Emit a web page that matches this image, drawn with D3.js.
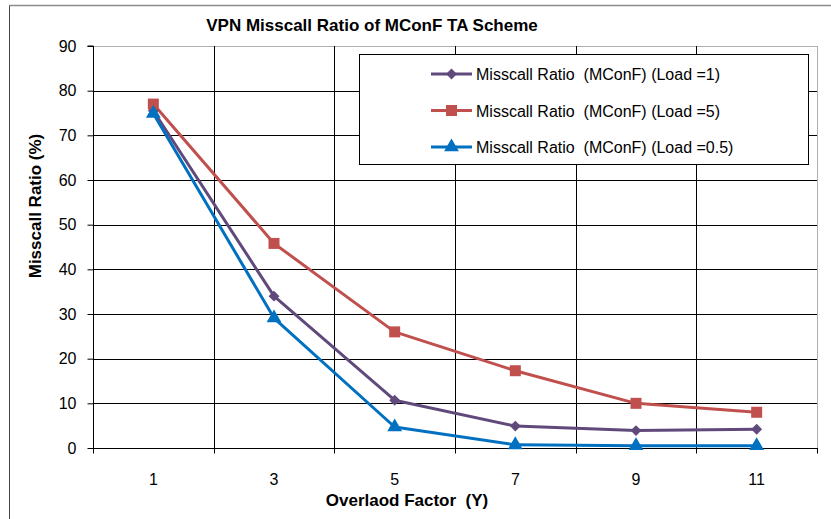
<!DOCTYPE html>
<html>
<head>
<meta charset="utf-8">
<script src="https://cdn.jsdelivr.net/npm/d3@7/dist/d3.min.js"></script>
<style>
  html, body { margin: 0; padding: 0; background: #fff; }
  svg { display: block; font-family: Arial, "Liberation Sans", sans-serif; }
  text { white-space: pre; }
</style>
</head>
<body>
<svg id="chart" width="831" height="519"></svg>
<script>
// Overload factor categories on the x axis
const categories = ["1", "3", "5", "7", "9", "11"];

// Misscall ratio (%) per load setting
const loadOne     = [75.5, 34.0, 10.7, 4.9, 3.9, 4.2];
const loadFive    = [77.0, 45.8, 26.0, 17.3, 10.0, 8.0];
const loadHalf    = [74.9, 29.1, 4.7, 0.7, 0.5, 0.5];

const yTicks = [0, 10, 20, 30, 40, 50, 60, 70, 80, 90];

const seriesNames = [
  "Misscall Ratio  (MConF) (Load =1)",
  "Misscall Ratio  (MConF) (Load =5)",
  "Misscall Ratio  (MConF) (Load =0.5)"
];

const series = [
  { name: seriesNames[0], values: loadOne,  color: "#604A7B", symbol: d3.symbolDiamond2, size: 75 },
  { name: seriesNames[1], values: loadFive, color: "#C0504D", symbol: d3.symbolSquare,   size: 121 },
  { name: seriesNames[2], values: loadHalf, color: "#0070C0", symbol: d3.symbolTriangle, size: 95 }
];

const svg = d3.select("#chart");
const plot = { left: 93, right: 817, top: 46, bottom: 448 };

// Chart area frame
svg.append("rect")
  .attr("x", 9.5).attr("y", 5.5)
  .attr("width", 840).attr("height", 540)
  .attr("fill", "#fff")
  .attr("stroke", "#444").attr("stroke-width", 1);
svg.append("line")
  .attr("x1", 9).attr("x2", 831).attr("y1", 5.5).attr("y2", 5.5)
  .attr("stroke", "#8c8c8c").attr("stroke-width", 1.5);

const x = d3.scaleBand().domain(categories).range([plot.left, plot.right]).paddingInner(0).paddingOuter(0);
const y = d3.scaleLinear().domain([0, 90]).range([plot.bottom, plot.top]);
const cx = c => x(c) + x.bandwidth() / 2;

// Plot area border
svg.append("rect")
  .attr("x", plot.left + 0.5).attr("y", plot.top + 0.5)
  .attr("width", plot.right - plot.left).attr("height", plot.bottom - plot.top)
  .attr("fill", "none").attr("stroke", "#b0b0b0").attr("stroke-width", 1);

// Horizontal gridlines
svg.append("g")
  .selectAll("line")
  .data(yTicks.filter(t => t > 0 && t < 90))
  .join("line")
  .attr("x1", plot.left).attr("x2", plot.right)
  .attr("y1", d => Math.round(y(d)) + 0.5).attr("y2", d => Math.round(y(d)) + 0.5)
  .attr("stroke", "#000").attr("stroke-width", 1);

// Vertical gridlines at category boundaries
svg.append("g")
  .selectAll("line")
  .data(categories.slice(1))
  .join("line")
  .attr("x1", d => Math.round(x(d)) + 0.5).attr("x2", d => Math.round(x(d)) + 0.5)
  .attr("y1", plot.top).attr("y2", plot.bottom)
  .attr("stroke", "#000").attr("stroke-width", 1);

// Y axis
const yAxis = svg.append("g")
  .attr("transform", `translate(${plot.left + 0.5},0)`)
  .call(d3.axisLeft(y).tickValues(yTicks).tickSize(6).tickPadding(11));
yAxis.select(".domain").attr("stroke", "#000").attr("d", `M-6,${y(90)}H0V${y(0)}`);
yAxis.selectAll(".tick line").attr("stroke", "#000");
yAxis.selectAll(".tick text")
  .attr("font-size", 16).attr("fill", "#000")
  .attr("font-family", "Arial, 'Liberation Sans', sans-serif");

// X axis with ticks on category boundaries
const xAxis = svg.append("g").attr("transform", `translate(0,${plot.bottom + 0.5})`);
xAxis.append("line")
  .attr("x1", plot.left).attr("x2", plot.right + 1)
  .attr("y1", 0).attr("y2", 0)
  .attr("stroke", "#000");
const boundaries = categories.map(c => x(c)).concat([x(categories[categories.length - 1]) + x.bandwidth()]);
xAxis.selectAll("line.tick")
  .data(boundaries)
  .join("line")
  .attr("class", "tick")
  .attr("x1", d => Math.round(d) + 0.5).attr("x2", d => Math.round(d) + 0.5)
  .attr("y1", 0).attr("y2", 5)
  .attr("stroke", "#000");
xAxis.selectAll("text")
  .data(categories)
  .join("text")
  .attr("x", d => cx(d))
  .attr("y", 36)
  .attr("text-anchor", "middle")
  .attr("font-size", 16)
  .text(d => d);

// Series lines and markers
const line = d3.line().x((d, i) => cx(categories[i])).y(d => y(d));
series.forEach(s => {
  svg.append("path")
    .datum(s.values)
    .attr("d", line)
    .attr("fill", "none")
    .attr("stroke", s.color)
    .attr("stroke-width", 3)
    .attr("stroke-linejoin", "round");
});
series.forEach(s => {
  svg.append("g")
    .selectAll("path")
    .data(s.values)
    .join("path")
    .attr("transform", (d, i) => `translate(${cx(categories[i])},${y(d)})`)
    .attr("d", d3.symbol().type(s.symbol).size(s.size))
    .attr("fill", s.color);
});

// Titles
svg.append("text")
  .attr("x", 372).attr("y", 31)
  .attr("text-anchor", "middle")
  .attr("font-size", 17).attr("font-weight", "bold")
  .text("VPN Misscall Ratio of MConF TA Scheme");

svg.append("text")
  .attr("x", 407).attr("y", 506)
  .attr("text-anchor", "middle")
  .attr("font-size", 17).attr("font-weight", "bold")
  .text("Overlaod Factor  (Y)");

svg.append("text")
  .attr("transform", "translate(41,206) rotate(-90)")
  .attr("text-anchor", "middle")
  .attr("font-size", 17).attr("font-weight", "bold")
  .text("Misscall Ratio (%)");

// Legend
const legend = svg.append("g");
legend.append("rect")
  .attr("x", 359.5).attr("y", 54.5)
  .attr("width", 449).attr("height", 110)
  .attr("fill", "#fff").attr("stroke", "#000").attr("stroke-width", 1);
const rowY = [74, 110.5, 147];
series.forEach((s, i) => {
  const g = legend.append("g").attr("transform", `translate(0,${rowY[i]})`);
  g.append("line")
    .attr("x1", 431).attr("x2", 472).attr("y1", 0).attr("y2", 0)
    .attr("stroke", s.color).attr("stroke-width", 3);
  g.append("path")
    .attr("transform", "translate(451.5,0)")
    .attr("d", d3.symbol().type(s.symbol).size(s.size))
    .attr("fill", s.color);
  g.append("text")
    .attr("x", 476).attr("y", 6)
    .attr("font-size", 16)
    .text(s.name);
});
</script>
</body>
</html>
